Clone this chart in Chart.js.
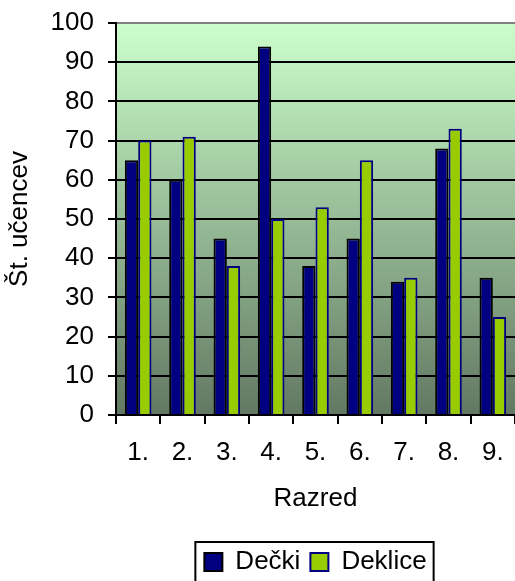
<!DOCTYPE html>
<html>
<head>
<meta charset="utf-8">
<script src="https://cdn.jsdelivr.net/npm/chart.js@4/dist/chart.umd.min.js"></script>
<style>
  html, body { margin: 0; padding: 0; background: #ffffff; }
  #wrap { width: 515px; height: 581px; }
</style>
</head>
<body>
<div id="wrap"><canvas id="c" width="515" height="581"></canvas></div>
<script>
const categories = ['1.', '2.', '3.', '4.', '5.', '6.', '7.', '8.', '9.'];
const decki = [65, 60, 45, 94, 38, 45, 34, 68, 35];
const deklice = [70, 71, 38, 50, 53, 65, 35, 73, 25];
const seriesNames = ['Dečki', 'Deklice'];
const yTitle = 'Št. učencev';
const xTitle = 'Razred';

const FONT = 'Arial, "Liberation Sans", sans-serif';

const bgPlugin = {
  id: 'bgPlugin',
  beforeDraw(chart) {
    const ctx = chart.ctx;
    const a = chart.chartArea;
    ctx.save();
    ctx.fillStyle = '#ffffff';
    ctx.fillRect(0, 0, chart.width, chart.height);
    const g = ctx.createLinearGradient(0, a.top, 0, a.bottom);
    g.addColorStop(0, '#ccffcc');
    g.addColorStop(1, '#627862');
    ctx.fillStyle = g;
    ctx.fillRect(a.left, a.top, a.right - a.left, a.bottom - a.top);
    ctx.restore();
  },
  afterDraw(chart) {
    const lg = chart.legend;
    const hb = lg.legendHitBoxes;
    if (!hb || !hb.length) return;
    const ctx = chart.ctx;
    ctx.save();
    ctx.strokeStyle = '#000000';
    ctx.lineWidth = 2;
    const first = hb[0], last = hb[hb.length - 1];
    const cy = first.top + first.height / 2;
    const x1 = first.left - 9, x2 = last.left + last.width + 7;
    const y1 = cy - 20, y2 = cy + 40;
    ctx.strokeRect(x1, y1, x2 - x1, y2 - y1);
    ctx.restore();
  }
};

new Chart(document.getElementById('c'), {
  type: 'bar',
  data: {
    labels: categories,
    datasets: [
      {
        label: seriesNames[0],
        data: decki,
        backgroundColor: '#000080',
        borderColor: '#000000',
        borderWidth: 2,
        categoryPercentage: 0.6,
        barPercentage: 1.0
      },
      {
        label: seriesNames[1],
        data: deklice,
        backgroundColor: '#99cc00',
        borderColor: '#000080',
        borderWidth: 2,
        categoryPercentage: 0.6,
        barPercentage: 1.0
      }
    ]
  },
  options: {
    responsive: false,
    animation: false,
    devicePixelRatio: 1,
    layout: { padding: { top: 23, right: 0, bottom: -4, left: 0 } },
    plugins: {
      tooltip: { enabled: false },
      legend: {
        position: 'bottom',
        fullSize: false,
        labels: {
          color: '#000000',
          font: { family: FONT, size: 26 },
          boxWidth: 18,
          boxHeight: 18,
          padding: 10
        }
      }
    },
    scales: {
      x: {
        offset: true,
        grid: {
          display: true,
          offset: true,
          drawOnChartArea: false,
          drawTicks: true,
          tickLength: 9,
          color: '#000000',
          lineWidth: 2
        },
        border: { display: true, color: '#000000', width: 2 },
        ticks: {
          color: '#000000',
          font: { family: FONT, size: 26 },
          padding: 13.5,
          maxRotation: 0
        },
        title: {
          display: true,
          text: xTitle,
          color: '#000000',
          font: { family: FONT, size: 26 },
          padding: { top: 0, bottom: 24.5 }
        },
        afterFit(scale) {
          scale.height = 124;
          scale.paddingLeft = 0; scale.paddingRight = 0;
          scale.paddingTop = 0; scale.paddingBottom = 0;
        }
      },
      y: {
        min: 0,
        max: 100,
        ticks: {
          stepSize: 10,
          color: '#000000',
          font: { family: FONT, size: 26 },
          padding: 14
        },
        grid: {
          color: (c) => (c.tick && c.tick.value === 100 ? '#808080' : '#000000'),
          tickColor: '#000000',
          lineWidth: 2,
          tickLength: 8
        },
        border: { display: true, color: '#000000', width: 2 },
        title: {
          display: true,
          text: yTitle,
          color: '#000000',
          font: { family: FONT, size: 26 },
          padding: { top: 4, bottom: 0 }
        },
        afterFit(scale) {
          scale.width = 116;
          scale.paddingTop = 0; scale.paddingBottom = 0;
          scale.paddingLeft = 0; scale.paddingRight = 0;
        }
      }
    }
  },
  plugins: [bgPlugin]
});
</script>
</body>
</html>
